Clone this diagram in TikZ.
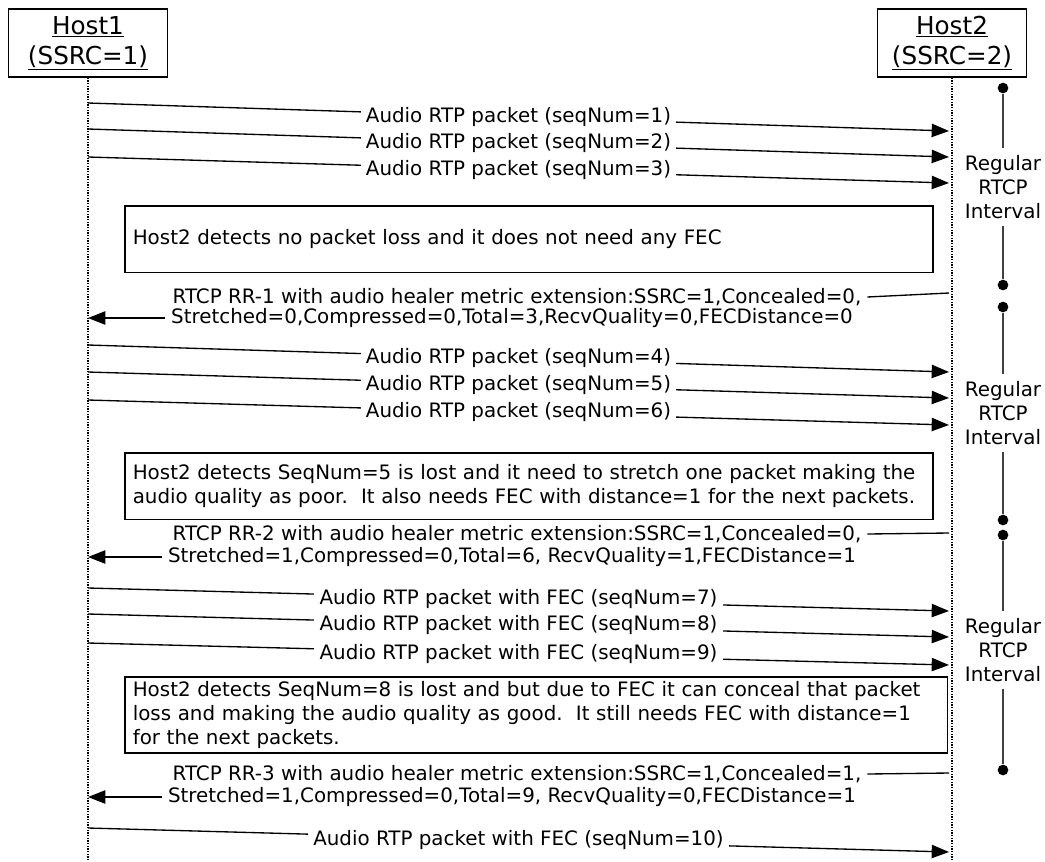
\documentclass[tikz,border=0pt]{standalone}
\usepackage{fontspec}
\setmainfont{DejaVu Sans}
\usetikzlibrary{arrows.meta}
\usetikzlibrary{positioning}

\begin{document}
\begin{tikzpicture}[x=0.75pt, y=-0.75pt,
    font=\fontsize{14.9pt}{18pt}\selectfont, line width=1pt,
    hostbox/.style={draw, line width=1.2pt, align=center, font=\fontsize{18.5pt}{22.5pt}\selectfont, minimum height=51pt},
    lifeline/.style={densely dotted, line width=1pt},
    msglabel/.style={fill=white, inner xsep=4pt, inner ysep=2pt},
    msgarrow/.style={-{Triangle[length=13pt,width=10pt]}},
    rrlabel/.style={inner xsep=4pt, inner ysep=3pt},
    notebox/.style={draw, line width=1.2pt, align=left, anchor=north west, inner xsep=6pt},
    ivdot/.style={circle, fill=black, inner sep=0pt, minimum size=8pt},
    ivline/.style={draw=black!75, line width=1.1pt},
    ivlabel/.style={align=center, inner sep=5pt}]

        % Frame of the picture
        \useasboundingbox (0,0) rectangle (1045,861);

        % Hosts and their lifelines
        \node[hostbox, minimum width=119pt] (host1) at (88,43) {\underline{Host1}\\\underline{(SSRC=1)}};
        \node[hostbox, minimum width=112pt] (host2) at (952,43) {\underline{Host2}\\\underline{(SSRC=2)}};
        \coordinate (end1) at (88,861);
        \coordinate (end2) at (952,861);
        \draw[lifeline] (host1) -- (end1);
        \draw[lifeline] (host2) -- (end2);

        % Audio packets from Host1 to Host2
        \foreach \n/\ya/\yb/\txt in {1/103/131/{Audio RTP packet (seqNum=1)},
                                     2/129/157/{Audio RTP packet (seqNum=2)},
                                     3/157/183/{Audio RTP packet (seqNum=3)},
                                     4/345/372/{Audio RTP packet (seqNum=4)},
                                     5/372/398/{Audio RTP packet (seqNum=5)},
                                     6/400/425/{Audio RTP packet (seqNum=6)},
                                     7/588/611/{Audio RTP packet with FEC (seqNum=7)},
                                     8/614/637/{Audio RTP packet with FEC (seqNum=8)},
                                     9/643/665/{Audio RTP packet with FEC (seqNum=9)},
                                     10/828/852/{Audio RTP packet with FEC (seqNum=10)}}
        {
          \coordinate (src\n) at (88,\ya);
          \coordinate (dst\n) at (949,\yb);
          \draw[msgarrow] (src\n) -- node[msglabel] (pkt\n) {\txt} (dst\n);
        }

        % Notes at Host2
        \node[notebox, text width=594pt, minimum height=50pt] (note1) at (124,205)
          {Host2 detects no packet loss and it does not need any FEC};
        \node[notebox, text width=594pt, minimum height=50pt] (note2) at (124,452)
          {Host2 detects SeqNum=5 is lost and it need to stretch one packet making the\\
           audio quality as poor.\ \ It also needs FEC with distance=1 for the next packets.};
        \node[notebox, text width=605pt, minimum height=54pt] (note3) at (124,676)
          {Host2 detects SeqNum=8 is lost and but due to FEC it can conceal that packet\\
           loss and making the audio quality as good.\ \ It still needs FEC with distance=1\\
           for the next packets.};

        % RTCP receiver reports from Host2 to Host1
        \coordinate (rrsrc1) at (949,293);
        \coordinate (rrdst1) at (88,318);
        \node[rrlabel] (rr1a) at (517,297) {RTCP RR-1 with audio healer metric extension:SSRC=1,Concealed=0,};
        \node[rrlabel] (rr1b) at (512,318) {Stretched=0,Compressed=0,Total=3,RecvQuality=0,FECDistance=0};
        \draw (rrsrc1) -- (rr1a.east);
        \draw[msgarrow] (rr1b.west) -- (rrdst1);

        \coordinate (rrsrc2) at (949,533);
        \coordinate (rrdst2) at (88,557);
        \node[rrlabel] (rr2a) at (517,534) {RTCP RR-2 with audio healer metric extension:SSRC=1,Concealed=0,};
        \node[rrlabel] (rr2b) at (512,557) {Stretched=1,Compressed=0,Total=6, RecvQuality=1,FECDistance=1};
        \draw (rrsrc2) -- (rr2a.east);
        \draw[msgarrow] (rr2b.west) -- (rrdst2);

        \coordinate (rrsrc3) at (949,773);
        \coordinate (rrdst3) at (88,797);
        \node[rrlabel] (rr3a) at (517,774) {RTCP RR-3 with audio healer metric extension:SSRC=1,Concealed=1,};
        \node[rrlabel] (rr3b) at (512,797) {Stretched=1,Compressed=0,Total=9, RecvQuality=0,FECDistance=1};
        \draw (rrsrc3) -- (rr3a.east);
        \draw[msgarrow] (rr3b.west) -- (rrdst3);

        % Regular RTCP intervals
        \node[ivdot] (iv1a) at (1003,88) {};
        \node[ivdot] (iv1b) at (1003,285) {};
        \node[ivlabel] (iv1) at (1003,187) {Regular\\RTCP\\Interval};
        \draw[ivline] (iv1a) -- (iv1);
        \draw[ivline] (iv1) -- (iv1b);

        \node[ivdot] (iv2a) at (1003,307) {};
        \node[ivdot] (iv2b) at (1003,520) {};
        \node[ivlabel] (iv2) at (1003,413) {Regular\\RTCP\\Interval};
        \draw[ivline] (iv2a) -- (iv2);
        \draw[ivline] (iv2) -- (iv2b);

        \node[ivdot] (iv3a) at (1003,535) {};
        \node[ivdot] (iv3b) at (1003,770) {};
        \node[ivlabel] (iv3) at (1003,650) {Regular\\RTCP\\Interval};
        \draw[ivline] (iv3a) -- (iv3);
        \draw[ivline] (iv3) -- (iv3b);
      \end{tikzpicture}
\end{document}
